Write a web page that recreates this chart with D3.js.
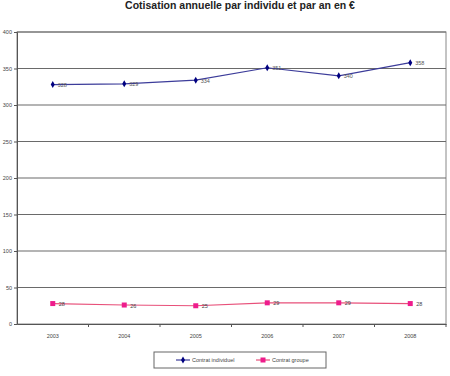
<!DOCTYPE html>
<html>
<head>
<meta charset="utf-8">
<script src="https://cdn.jsdelivr.net/npm/d3@7"></script>
<style>
  body { margin: 0; background: #fff; }
  svg { display: block; font-family: "Liberation Sans", Arial, sans-serif; }
</style>
</head>
<body>
<svg width="450" height="376"></svg>
<script>
const years = ["2003", "2004", "2005", "2006", "2007", "2008"];
const individuel = [328, 329, 334, 351, 340, 358];
const groupe = [28, 26, 25, 29, 29, 28];
const yTicks = [0, 50, 100, 150, 200, 250, 300, 350, 400];
const seriesNames = ["Contrat individuel", "Contrat groupe"];

const svg = d3.select("svg");
const margin = { top: 32, right: 4, bottom: 52, left: 17 };
const width = 450 - margin.left - margin.right;
const height = 376 - margin.top - margin.bottom;

const x = d3.scaleBand().domain(years).range([margin.left, margin.left + width]);
const y = d3.scaleLinear().domain([0, 400]).range([margin.top + height, margin.top]);

// title
svg.append("text")
  .attr("x", 240).attr("y", 9)
  .attr("text-anchor", "middle")
  .attr("font-size", 10.5).attr("font-weight", "bold")
  .attr("fill", "#222")
  .text("Cotisation annuelle par individu et par an en €");

// plot frame
svg.append("rect")
  .attr("x", margin.left).attr("y", margin.top)
  .attr("width", width).attr("height", height)
  .attr("fill", "#fff").attr("stroke", "#888").attr("stroke-width", 1);

// gridlines
svg.append("g").selectAll("line")
  .data(yTicks.filter(d => d > 0))
  .join("line")
  .attr("x1", margin.left).attr("x2", margin.left + width)
  .attr("y1", d => y(d)).attr("y2", d => y(d))
  .attr("stroke", "#6a6a6a").attr("stroke-width", 1.2);

// y axis
const yAxis = svg.append("g")
  .attr("transform", `translate(${margin.left},0)`)
  .call(d3.axisLeft(y).tickValues(yTicks).tickSize(3).tickPadding(2));
yAxis.selectAll("text").attr("font-size", 5.5).attr("fill", "#444");
yAxis.selectAll("line, path").attr("stroke", "#555");

// x axis
const xAxis = svg.append("g")
  .attr("transform", `translate(0,${margin.top + height})`)
  .call(d3.axisBottom(x).tickSize(0).tickPadding(10).tickSizeOuter(0));
xAxis.selectAll("text").attr("font-size", 5.5).attr("fill", "#444");
xAxis.select(".domain").attr("stroke", "#555");
xAxis.selectAll(".sep")
  .data(years)
  .join("line")
  .attr("class", "sep")
  .attr("x1", d => x(d) + x.bandwidth())
  .attr("x2", d => x(d) + x.bandwidth())
  .attr("y1", 0).attr("y2", 3)
  .attr("stroke", "#555");

const cx = d => x(d) + x.bandwidth() / 2;

const line = d3.line()
  .x((d, i) => cx(years[i]))
  .y(d => y(d));

// individuel
svg.append("path")
  .datum(individuel)
  .attr("fill", "none")
  .attr("stroke", "#3c3c9a")
  .attr("stroke-width", 1.2)
  .attr("d", line);

svg.append("g").selectAll("path")
  .data(individuel)
  .join("path")
  .attr("transform", (d, i) => `translate(${cx(years[i])},${y(d)})`)
  .attr("d", d3.symbol(d3.symbolDiamond, 14))
  .attr("fill", "#000080");

svg.append("g").selectAll("text")
  .data(individuel)
  .join("text")
  .attr("x", (d, i) => cx(years[i]) + 5)
  .attr("y", d => y(d) + 2.5)
  .attr("font-size", 5.5).attr("fill", "#555")
  .text(d => d);

// groupe
svg.append("path")
  .datum(groupe)
  .attr("fill", "none")
  .attr("stroke", "#e8507a")
  .attr("stroke-width", 1.2)
  .attr("d", line);

svg.append("g").selectAll("rect")
  .data(groupe)
  .join("rect")
  .attr("x", (d, i) => cx(years[i]) - 2.5)
  .attr("y", d => y(d) - 2.5)
  .attr("width", 5).attr("height", 5)
  .attr("fill", "#ee1c8c");

svg.append("g").selectAll("text")
  .data(groupe)
  .join("text")
  .attr("x", (d, i) => cx(years[i]) + 6)
  .attr("y", d => y(d) + 2.5)
  .attr("font-size", 5.5).attr("fill", "#444")
  .text(d => d);

// legend
const legend = svg.append("g").attr("transform", "translate(154,352)");
legend.append("rect")
  .attr("width", 172).attr("height", 16)
  .attr("fill", "#fff").attr("stroke", "#666").attr("stroke-width", 1);

const legendItems = [
  { name: seriesNames[0], color: "#3c3c9a", marker: "diamond", mcolor: "#000080", x: 22 },
  { name: seriesNames[1], color: "#e8507a", marker: "square", mcolor: "#ee1c8c", x: 102 }
];
legendItems.forEach(it => {
  const g = legend.append("g").attr("transform", `translate(${it.x},8)`);
  g.append("line").attr("x1", 0).attr("x2", 14)
    .attr("stroke", it.color).attr("stroke-width", 1.2);
  if (it.marker === "diamond") {
    g.append("path").attr("transform", "translate(7,0)")
      .attr("d", d3.symbol(d3.symbolDiamond, 14)).attr("fill", it.mcolor);
  } else {
    g.append("rect").attr("x", 4.5).attr("y", -2.5).attr("width", 5).attr("height", 5)
      .attr("fill", it.mcolor);
  }
  g.append("text").attr("x", 16).attr("y", 2)
    .attr("font-size", 5.5).attr("fill", "#444")
    .text(it.name);
});
</script>
</body>
</html>
